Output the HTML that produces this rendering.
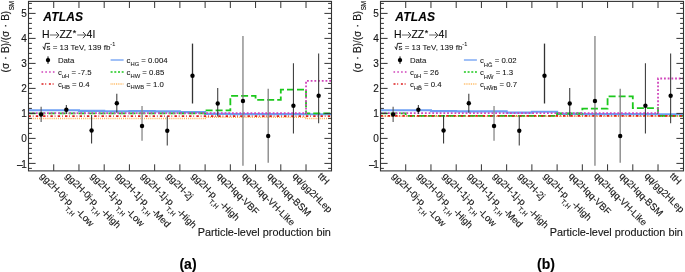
<!DOCTYPE html>
<html><head><meta charset="utf-8"><style>
html,body{margin:0;padding:0;background:#fff;width:685px;height:272px;overflow:hidden}
svg{display:block;will-change:transform;font-family:"Liberation Sans",sans-serif}
text{stroke:currentColor;stroke-width:0.13px}
text.s{stroke-width:0.06px}
</style></head><body>
<svg width="685" height="272" viewBox="0 0 685 272">
<path d="M28.50,118.60 L205.11,118.60 L205.11,117.20 L306.03,117.20 L306.03,118.60 L331.26,118.60" fill="none" stroke="#ffb455" stroke-width="1.5" stroke-dasharray="1.05,1.05"/>
<path d="M28.50,110.30 L78.96,110.30 L78.96,110.90 L104.19,110.90 L104.19,111.20 L129.42,111.20 L129.42,111.10 L154.65,111.10 L154.65,111.40 L179.88,111.40 L179.88,112.10 L205.11,112.10 L205.11,113.90 L230.34,113.90 L230.34,114.10 L306.03,114.10 L306.03,114.20 L331.26,114.20" fill="none" stroke="#6c9ef3" stroke-width="2.1"/>
<path d="M28.50,113.30 L205.11,113.30 L205.11,110.40 L230.34,110.40 L230.34,95.90 L255.57,95.90 L255.57,99.80 L280.80,99.80 L280.80,89.60 L306.03,89.60 L306.03,113.40 L331.26,113.40" fill="none" stroke="#1cc81c" stroke-width="1.8" stroke-dasharray="7,3"/>
<path d="M28.50,116.20 L331.26,116.20" fill="none" stroke="#dd1f1f" stroke-width="1.7" stroke-dasharray="2.4,1.9,0.7,2.3"/>
<path d="M28.50,113.20 L306.03,113.20 L306.03,80.90 L331.26,80.90" fill="none" stroke="#d044bb" stroke-width="1.8" stroke-dasharray="1.8,1.9"/>
<line x1="41.12" y1="106.80" x2="41.12" y2="122.10" stroke="#555" stroke-width="1.10"/>
<circle cx="41.12" cy="114.50" r="2.2" fill="#000"/>
<line x1="66.34" y1="104.90" x2="66.34" y2="113.90" stroke="#383838" stroke-width="1.05"/>
<circle cx="66.34" cy="109.70" r="2.2" fill="#000"/>
<line x1="91.58" y1="115.10" x2="91.58" y2="143.40" stroke="#3a3a3a" stroke-width="1.10"/>
<circle cx="91.58" cy="130.50" r="2.2" fill="#000"/>
<line x1="116.81" y1="93.70" x2="116.81" y2="112.80" stroke="#383838" stroke-width="1.05"/>
<circle cx="116.81" cy="103.30" r="2.2" fill="#000"/>
<line x1="142.03" y1="106.00" x2="142.03" y2="140.70" stroke="#888" stroke-width="1.30"/>
<circle cx="142.03" cy="126.00" r="2.2" fill="#000"/>
<line x1="167.27" y1="116.20" x2="167.27" y2="145.40" stroke="#444" stroke-width="1.10"/>
<circle cx="167.27" cy="130.80" r="2.2" fill="#000"/>
<line x1="192.50" y1="43.60" x2="192.50" y2="103.50" stroke="#333" stroke-width="1.30"/>
<circle cx="192.50" cy="75.70" r="2.2" fill="#000"/>
<line x1="217.72" y1="88.00" x2="217.72" y2="116.40" stroke="#383838" stroke-width="1.05"/>
<circle cx="217.72" cy="103.50" r="2.2" fill="#000"/>
<line x1="242.96" y1="36.00" x2="242.96" y2="165.80" stroke="#777" stroke-width="1.20"/>
<circle cx="242.96" cy="101.00" r="2.2" fill="#000"/>
<line x1="268.19" y1="88.80" x2="268.19" y2="162.80" stroke="#777" stroke-width="1.20"/>
<circle cx="268.19" cy="136.00" r="2.2" fill="#000"/>
<line x1="293.42" y1="63.30" x2="293.42" y2="133.50" stroke="#383838" stroke-width="1.05"/>
<circle cx="293.42" cy="105.80" r="2.2" fill="#000"/>
<line x1="318.64" y1="53.60" x2="318.64" y2="123.30" stroke="#383838" stroke-width="1.05"/>
<circle cx="318.64" cy="95.80" r="2.2" fill="#000"/>
<rect x="28.50" y="1.40" width="303.00" height="169.50" fill="none" stroke="#333" stroke-width="1.1"/>
<path d="M28.50,168.40 h3.40 M331.50,168.40 h-3.40 M28.50,163.40 h7.10 M331.50,163.40 h-7.10 M28.50,158.40 h3.40 M331.50,158.40 h-3.40 M28.50,153.40 h3.40 M331.50,153.40 h-3.40 M28.50,148.40 h3.40 M331.50,148.40 h-3.40 M28.50,143.40 h3.40 M331.50,143.40 h-3.40 M28.50,138.40 h7.10 M331.50,138.40 h-7.10 M28.50,133.40 h3.40 M331.50,133.40 h-3.40 M28.50,128.40 h3.40 M331.50,128.40 h-3.40 M28.50,123.40 h3.40 M331.50,123.40 h-3.40 M28.50,118.40 h3.40 M331.50,118.40 h-3.40 M28.50,113.40 h7.10 M331.50,113.40 h-7.10 M28.50,108.40 h3.40 M331.50,108.40 h-3.40 M28.50,103.40 h3.40 M331.50,103.40 h-3.40 M28.50,98.40 h3.40 M331.50,98.40 h-3.40 M28.50,93.40 h3.40 M331.50,93.40 h-3.40 M28.50,88.40 h7.10 M331.50,88.40 h-7.10 M28.50,83.40 h3.40 M331.50,83.40 h-3.40 M28.50,78.40 h3.40 M331.50,78.40 h-3.40 M28.50,73.40 h3.40 M331.50,73.40 h-3.40 M28.50,68.40 h3.40 M331.50,68.40 h-3.40 M28.50,63.40 h7.10 M331.50,63.40 h-7.10 M28.50,58.40 h3.40 M331.50,58.40 h-3.40 M28.50,53.40 h3.40 M331.50,53.40 h-3.40 M28.50,48.40 h3.40 M331.50,48.40 h-3.40 M28.50,43.40 h3.40 M331.50,43.40 h-3.40 M28.50,38.40 h7.10 M331.50,38.40 h-7.10 M28.50,33.40 h3.40 M331.50,33.40 h-3.40 M28.50,28.40 h3.40 M331.50,28.40 h-3.40 M28.50,23.40 h3.40 M331.50,23.40 h-3.40 M28.50,18.40 h3.40 M331.50,18.40 h-3.40 M28.50,13.40 h7.10 M331.50,13.40 h-7.10 M28.50,8.40 h3.40 M331.50,8.40 h-3.40 M28.50,3.40 h3.40 M331.50,3.40 h-3.40 M53.73,170.90 v-6.60 M53.73,1.40 v6.60 M78.96,170.90 v-6.60 M78.96,1.40 v6.60 M104.19,170.90 v-6.60 M104.19,1.40 v6.60 M129.42,170.90 v-6.60 M129.42,1.40 v6.60 M154.65,170.90 v-6.60 M154.65,1.40 v6.60 M179.88,170.90 v-6.60 M179.88,1.40 v6.60 M205.11,170.90 v-6.60 M205.11,1.40 v6.60 M230.34,170.90 v-6.60 M230.34,1.40 v6.60 M255.57,170.90 v-6.60 M255.57,1.40 v6.60 M280.80,170.90 v-6.60 M280.80,1.40 v6.60 M306.03,170.90 v-6.60 M306.03,1.40 v6.60" stroke="#333" stroke-width="1" fill="none"/>
<text x="26.70" y="167.70" font-size="10" text-anchor="end" font-family="Liberation Sans, sans-serif" fill="#222">–<tspan dx="-1.3">1</tspan></text>
<text x="26.70" y="142.00" font-size="10" text-anchor="end" font-family="Liberation Sans, sans-serif" fill="#222">0</text>
<text x="26.70" y="117.00" font-size="10" text-anchor="end" font-family="Liberation Sans, sans-serif" fill="#222">1</text>
<text x="26.70" y="92.00" font-size="10" text-anchor="end" font-family="Liberation Sans, sans-serif" fill="#222">2</text>
<text x="26.70" y="67.00" font-size="10" text-anchor="end" font-family="Liberation Sans, sans-serif" fill="#222">3</text>
<text x="26.70" y="42.00" font-size="10" text-anchor="end" font-family="Liberation Sans, sans-serif" fill="#222">4</text>
<text x="26.70" y="17.00" font-size="10" text-anchor="end" font-family="Liberation Sans, sans-serif" fill="#222">5</text>
<text transform="translate(9.25,0.9) rotate(-90)" font-size="10" text-anchor="end" font-family="Liberation Sans, sans-serif" fill="#222">(σ<tspan dx="0.5"> · </tspan><tspan dx="0.5">B)/(σ</tspan><tspan dx="0.5"> · </tspan><tspan dx="0.5">B)</tspan><tspan font-size="6.3" dx="0.5" dy="4.85" fill="#000">SM</tspan></text>
<text transform="translate(39.62,176.6) rotate(45)" font-size="9.5" font-family="Liberation Sans, sans-serif" fill="#222">gg2H-0j-p<tspan font-size="6.5" dx="-0.8" dy="5.6" letter-spacing="0.3">T,H</tspan><tspan font-size="9.5" dy="-5.6" dx="-0.6">-Low</tspan></text>
<text transform="translate(64.84,176.6) rotate(45)" font-size="9.5" font-family="Liberation Sans, sans-serif" fill="#222">gg2H-0j-p<tspan font-size="6.5" dx="-0.8" dy="5.6" letter-spacing="0.3">T,H</tspan><tspan font-size="9.5" dy="-5.6" dx="-0.6">-High</tspan></text>
<text transform="translate(90.08,176.6) rotate(45)" font-size="9.5" font-family="Liberation Sans, sans-serif" fill="#222">gg2H-1j-p<tspan font-size="6.5" dx="-0.8" dy="5.6" letter-spacing="0.3">T,H</tspan><tspan font-size="9.5" dy="-5.6" dx="-0.6">-Low</tspan></text>
<text transform="translate(115.31,176.6) rotate(45)" font-size="9.5" font-family="Liberation Sans, sans-serif" fill="#222">gg2H-1j-p<tspan font-size="6.5" dx="-0.8" dy="5.6" letter-spacing="0.3">T,H</tspan><tspan font-size="9.5" dy="-5.6" dx="-0.6">-Med</tspan></text>
<text transform="translate(140.53,176.6) rotate(45)" font-size="9.5" font-family="Liberation Sans, sans-serif" fill="#222">gg2H-1j-p<tspan font-size="6.5" dx="-0.8" dy="5.6" letter-spacing="0.3">T,H</tspan><tspan font-size="9.5" dy="-5.6" dx="-0.6">-High</tspan></text>
<text transform="translate(165.77,176.6) rotate(45)" font-size="9.5" font-family="Liberation Sans, sans-serif" fill="#222">gg2H-2j</text>
<text transform="translate(191.00,176.6) rotate(45)" font-size="9.5" font-family="Liberation Sans, sans-serif" fill="#222">gg2H-p<tspan font-size="6.5" dx="-0.8" dy="5.6" letter-spacing="0.3">T,H</tspan><tspan font-size="9.5" dy="-5.6" dx="-0.6">-High</tspan></text>
<text transform="translate(216.22,176.6) rotate(45)" font-size="9.5" font-family="Liberation Sans, sans-serif" fill="#222">qq2Hqq-VBF</text>
<text transform="translate(241.46,176.6) rotate(45)" font-size="9.5" font-family="Liberation Sans, sans-serif" fill="#222">qq2Hqq-VH-Like</text>
<text transform="translate(266.69,176.6) rotate(45)" font-size="9.5" font-family="Liberation Sans, sans-serif" fill="#222">qq2Hqq-BSM</text>
<text transform="translate(291.92,176.6) rotate(45)" font-size="9.5" font-family="Liberation Sans, sans-serif" fill="#222">qq/gg2HLep</text>
<text transform="translate(317.14,176.6) rotate(45)" font-size="9.5" font-family="Liberation Sans, sans-serif" fill="#222">ttH</text>
<text x="330.90" y="236.4" font-size="10.85" text-anchor="end" font-family="Liberation Sans, sans-serif" fill="#222">Particle-level production bin</text>
<text x="43.20" y="21.1" font-size="12" font-weight="bold" font-style="italic" letter-spacing="0.2" font-family="Liberation Sans, sans-serif" fill="#000">ATLAS</text>
<text x="42.00" y="37.65" font-size="10.5" font-family="Liberation Sans, sans-serif" fill="#111">H</text>
<text x="59.40" y="37.65" font-size="10.5" font-family="Liberation Sans, sans-serif" fill="#111">ZZ</text>
<text x="72.70" y="35.6" font-size="9" font-family="Liberation Sans, sans-serif" fill="#111">*</text>
<text x="86.40" y="37.65" font-size="10.5" font-family="Liberation Sans, sans-serif" fill="#111">4</text>
<text x="92.80" y="37.65" font-size="10.5" font-family="Liberation Sans, sans-serif" fill="#111">l</text>
<line x1="49.80" y1="35" x2="58.30" y2="35" stroke="#999" stroke-width="1.5"/>
<polyline points="56.10,32 58.90,35.1 56.10,38.2" fill="none" stroke="#333" stroke-width="1"/>
<line x1="77.20" y1="35" x2="85.20" y2="35" stroke="#999" stroke-width="1.5"/>
<polyline points="83.00,32 85.80,35.1 83.00,38.2" fill="none" stroke="#333" stroke-width="1"/>
<path d="M42.90,46.6 L44.50,49.6 L45.50,43.4 L49.90,43.4" fill="none" stroke="#111" stroke-width="0.9"/>
<text x="46.50" y="49.5" font-size="8" class="s" font-family="Liberation Sans, sans-serif" fill="#111">s = 13 TeV, 139 fb<tspan font-size="5.5" dy="-3.2">-1</tspan></text>
<line x1="48.00" y1="56.4" x2="48.00" y2="63.8" stroke="#000" stroke-width="1"/>
<circle cx="48.00" cy="60.1" r="2.2" fill="#000"/>
<text x="57.90" y="63" font-size="7.8" class="s" font-family="Liberation Sans, sans-serif" fill="#111">Data</text>
<line x1="41.50" y1="72.00" x2="54.50" y2="72.00" stroke="#d044bb" stroke-width="1.6" stroke-dasharray="1.6,2.2"/>
<text x="57.90" y="75.00" font-size="7.8" class="s" font-family="Liberation Sans, sans-serif" fill="#111">c<tspan font-size="5.8" dy="2.50">uH</tspan><tspan dy="-2.50"> = -7.5</tspan></text>
<line x1="41.50" y1="84.00" x2="54.50" y2="84.00" stroke="#dd1f1f" stroke-width="1.6" stroke-dasharray="2,1.7,1,2.7"/>
<text x="57.90" y="86.70" font-size="7.8" class="s" font-family="Liberation Sans, sans-serif" fill="#111">c<tspan font-size="5.8" dy="2.50">HB</tspan><tspan dy="-2.50"> = 0.4</tspan></text>
<line x1="110.60" y1="60.00" x2="123.60" y2="60.00" stroke="#6c9ef3" stroke-width="1.3"/>
<text x="126.60" y="63.00" font-size="7.8" class="s" font-family="Liberation Sans, sans-serif" fill="#111">c<tspan font-size="5.8" dy="2.50">HG</tspan><tspan dy="-2.50"> = 0.004</tspan></text>
<line x1="110.60" y1="72.00" x2="123.60" y2="72.00" stroke="#1cc81c" stroke-width="1.7" stroke-dasharray="2,1.7"/>
<text x="126.60" y="75.00" font-size="7.8" class="s" font-family="Liberation Sans, sans-serif" fill="#111">c<tspan font-size="5.8" dy="2.50">HW</tspan><tspan dy="-2.50"> = 0.85</tspan></text>
<line x1="110.60" y1="84.00" x2="123.60" y2="84.00" stroke="#ffb455" stroke-width="1.3" stroke-dasharray="0.9,0.9"/>
<text x="126.60" y="86.70" font-size="7.8" class="s" font-family="Liberation Sans, sans-serif" fill="#111">c<tspan font-size="5.8" dy="2.50">HWB</tspan><tspan dy="-2.50"> = 1.0</tspan></text>
<path d="M380.50,116.30 L683.26,116.30" fill="none" stroke="#ffb455" stroke-width="1.5" stroke-dasharray="1.05,1.05"/>
<path d="M380.50,110.30 L430.96,110.30 L430.96,111.10 L456.19,111.10 L456.19,111.40 L506.65,111.40 L506.65,112.60 L531.88,112.60 L531.88,111.80 L557.11,111.80 L557.11,113.90 L582.34,113.90 L582.34,114.10 L658.03,114.10 L658.03,114.20 L683.26,114.20" fill="none" stroke="#6c9ef3" stroke-width="2.1"/>
<path d="M380.50,113.30 L405.73,113.30 L405.73,115.80 L557.11,115.80 L557.11,113.50 L582.34,113.50 L582.34,108.70 L607.57,108.70 L607.57,96.40 L632.80,96.40 L632.80,108.10 L658.03,108.10 L658.03,115.80 L683.26,115.80" fill="none" stroke="#1cc81c" stroke-width="1.8" stroke-dasharray="7,3"/>
<path d="M380.50,115.80 L683.26,115.80" fill="none" stroke="#dd1f1f" stroke-width="1.7" stroke-dasharray="2.4,1.9,0.7,2.3"/>
<path d="M380.50,113.20 L658.03,113.20 L658.03,78.50 L683.26,78.50" fill="none" stroke="#d044bb" stroke-width="1.8" stroke-dasharray="1.8,1.9"/>
<line x1="393.12" y1="106.80" x2="393.12" y2="122.10" stroke="#555" stroke-width="1.10"/>
<circle cx="393.12" cy="114.50" r="2.2" fill="#000"/>
<line x1="418.35" y1="104.90" x2="418.35" y2="113.90" stroke="#383838" stroke-width="1.05"/>
<circle cx="418.35" cy="109.70" r="2.2" fill="#000"/>
<line x1="443.57" y1="115.10" x2="443.57" y2="143.40" stroke="#3a3a3a" stroke-width="1.10"/>
<circle cx="443.57" cy="130.50" r="2.2" fill="#000"/>
<line x1="468.81" y1="93.70" x2="468.81" y2="112.80" stroke="#383838" stroke-width="1.05"/>
<circle cx="468.81" cy="103.30" r="2.2" fill="#000"/>
<line x1="494.03" y1="106.00" x2="494.03" y2="140.70" stroke="#888" stroke-width="1.30"/>
<circle cx="494.03" cy="126.00" r="2.2" fill="#000"/>
<line x1="519.26" y1="116.20" x2="519.26" y2="145.40" stroke="#444" stroke-width="1.10"/>
<circle cx="519.26" cy="130.80" r="2.2" fill="#000"/>
<line x1="544.50" y1="43.60" x2="544.50" y2="103.50" stroke="#333" stroke-width="1.30"/>
<circle cx="544.50" cy="75.70" r="2.2" fill="#000"/>
<line x1="569.73" y1="88.00" x2="569.73" y2="116.40" stroke="#383838" stroke-width="1.05"/>
<circle cx="569.73" cy="103.50" r="2.2" fill="#000"/>
<line x1="594.96" y1="36.00" x2="594.96" y2="165.80" stroke="#777" stroke-width="1.20"/>
<circle cx="594.96" cy="101.00" r="2.2" fill="#000"/>
<line x1="620.18" y1="88.80" x2="620.18" y2="162.80" stroke="#777" stroke-width="1.20"/>
<circle cx="620.18" cy="136.00" r="2.2" fill="#000"/>
<line x1="645.41" y1="63.30" x2="645.41" y2="133.50" stroke="#383838" stroke-width="1.05"/>
<circle cx="645.41" cy="105.80" r="2.2" fill="#000"/>
<line x1="670.64" y1="53.60" x2="670.64" y2="123.30" stroke="#383838" stroke-width="1.05"/>
<circle cx="670.64" cy="95.80" r="2.2" fill="#000"/>
<rect x="380.50" y="1.40" width="303.00" height="169.50" fill="none" stroke="#333" stroke-width="1.1"/>
<path d="M380.50,168.40 h3.40 M683.50,168.40 h-3.40 M380.50,163.40 h7.10 M683.50,163.40 h-7.10 M380.50,158.40 h3.40 M683.50,158.40 h-3.40 M380.50,153.40 h3.40 M683.50,153.40 h-3.40 M380.50,148.40 h3.40 M683.50,148.40 h-3.40 M380.50,143.40 h3.40 M683.50,143.40 h-3.40 M380.50,138.40 h7.10 M683.50,138.40 h-7.10 M380.50,133.40 h3.40 M683.50,133.40 h-3.40 M380.50,128.40 h3.40 M683.50,128.40 h-3.40 M380.50,123.40 h3.40 M683.50,123.40 h-3.40 M380.50,118.40 h3.40 M683.50,118.40 h-3.40 M380.50,113.40 h7.10 M683.50,113.40 h-7.10 M380.50,108.40 h3.40 M683.50,108.40 h-3.40 M380.50,103.40 h3.40 M683.50,103.40 h-3.40 M380.50,98.40 h3.40 M683.50,98.40 h-3.40 M380.50,93.40 h3.40 M683.50,93.40 h-3.40 M380.50,88.40 h7.10 M683.50,88.40 h-7.10 M380.50,83.40 h3.40 M683.50,83.40 h-3.40 M380.50,78.40 h3.40 M683.50,78.40 h-3.40 M380.50,73.40 h3.40 M683.50,73.40 h-3.40 M380.50,68.40 h3.40 M683.50,68.40 h-3.40 M380.50,63.40 h7.10 M683.50,63.40 h-7.10 M380.50,58.40 h3.40 M683.50,58.40 h-3.40 M380.50,53.40 h3.40 M683.50,53.40 h-3.40 M380.50,48.40 h3.40 M683.50,48.40 h-3.40 M380.50,43.40 h3.40 M683.50,43.40 h-3.40 M380.50,38.40 h7.10 M683.50,38.40 h-7.10 M380.50,33.40 h3.40 M683.50,33.40 h-3.40 M380.50,28.40 h3.40 M683.50,28.40 h-3.40 M380.50,23.40 h3.40 M683.50,23.40 h-3.40 M380.50,18.40 h3.40 M683.50,18.40 h-3.40 M380.50,13.40 h7.10 M683.50,13.40 h-7.10 M380.50,8.40 h3.40 M683.50,8.40 h-3.40 M380.50,3.40 h3.40 M683.50,3.40 h-3.40 M405.73,170.90 v-6.60 M405.73,1.40 v6.60 M430.96,170.90 v-6.60 M430.96,1.40 v6.60 M456.19,170.90 v-6.60 M456.19,1.40 v6.60 M481.42,170.90 v-6.60 M481.42,1.40 v6.60 M506.65,170.90 v-6.60 M506.65,1.40 v6.60 M531.88,170.90 v-6.60 M531.88,1.40 v6.60 M557.11,170.90 v-6.60 M557.11,1.40 v6.60 M582.34,170.90 v-6.60 M582.34,1.40 v6.60 M607.57,170.90 v-6.60 M607.57,1.40 v6.60 M632.80,170.90 v-6.60 M632.80,1.40 v6.60 M658.03,170.90 v-6.60 M658.03,1.40 v6.60" stroke="#333" stroke-width="1" fill="none"/>
<text x="378.70" y="167.70" font-size="10" text-anchor="end" font-family="Liberation Sans, sans-serif" fill="#222">–<tspan dx="-1.3">1</tspan></text>
<text x="378.70" y="142.00" font-size="10" text-anchor="end" font-family="Liberation Sans, sans-serif" fill="#222">0</text>
<text x="378.70" y="117.00" font-size="10" text-anchor="end" font-family="Liberation Sans, sans-serif" fill="#222">1</text>
<text x="378.70" y="92.00" font-size="10" text-anchor="end" font-family="Liberation Sans, sans-serif" fill="#222">2</text>
<text x="378.70" y="67.00" font-size="10" text-anchor="end" font-family="Liberation Sans, sans-serif" fill="#222">3</text>
<text x="378.70" y="42.00" font-size="10" text-anchor="end" font-family="Liberation Sans, sans-serif" fill="#222">4</text>
<text x="378.70" y="17.00" font-size="10" text-anchor="end" font-family="Liberation Sans, sans-serif" fill="#222">5</text>
<text transform="translate(361.25,0.9) rotate(-90)" font-size="10" text-anchor="end" font-family="Liberation Sans, sans-serif" fill="#222">(σ<tspan dx="0.5"> · </tspan><tspan dx="0.5">B)/(σ</tspan><tspan dx="0.5"> · </tspan><tspan dx="0.5">B)</tspan><tspan font-size="6.3" dx="0.5" dy="4.85" fill="#000">SM</tspan></text>
<text transform="translate(391.62,176.6) rotate(45)" font-size="9.5" font-family="Liberation Sans, sans-serif" fill="#222">gg2H-0j-p<tspan font-size="6.5" dx="-0.8" dy="5.6" letter-spacing="0.3">T,H</tspan><tspan font-size="9.5" dy="-5.6" dx="-0.6">-Low</tspan></text>
<text transform="translate(416.85,176.6) rotate(45)" font-size="9.5" font-family="Liberation Sans, sans-serif" fill="#222">gg2H-0j-p<tspan font-size="6.5" dx="-0.8" dy="5.6" letter-spacing="0.3">T,H</tspan><tspan font-size="9.5" dy="-5.6" dx="-0.6">-High</tspan></text>
<text transform="translate(442.07,176.6) rotate(45)" font-size="9.5" font-family="Liberation Sans, sans-serif" fill="#222">gg2H-1j-p<tspan font-size="6.5" dx="-0.8" dy="5.6" letter-spacing="0.3">T,H</tspan><tspan font-size="9.5" dy="-5.6" dx="-0.6">-Low</tspan></text>
<text transform="translate(467.31,176.6) rotate(45)" font-size="9.5" font-family="Liberation Sans, sans-serif" fill="#222">gg2H-1j-p<tspan font-size="6.5" dx="-0.8" dy="5.6" letter-spacing="0.3">T,H</tspan><tspan font-size="9.5" dy="-5.6" dx="-0.6">-Med</tspan></text>
<text transform="translate(492.53,176.6) rotate(45)" font-size="9.5" font-family="Liberation Sans, sans-serif" fill="#222">gg2H-1j-p<tspan font-size="6.5" dx="-0.8" dy="5.6" letter-spacing="0.3">T,H</tspan><tspan font-size="9.5" dy="-5.6" dx="-0.6">-High</tspan></text>
<text transform="translate(517.76,176.6) rotate(45)" font-size="9.5" font-family="Liberation Sans, sans-serif" fill="#222">gg2H-2j</text>
<text transform="translate(543.00,176.6) rotate(45)" font-size="9.5" font-family="Liberation Sans, sans-serif" fill="#222">gg2H-p<tspan font-size="6.5" dx="-0.8" dy="5.6" letter-spacing="0.3">T,H</tspan><tspan font-size="9.5" dy="-5.6" dx="-0.6">-High</tspan></text>
<text transform="translate(568.23,176.6) rotate(45)" font-size="9.5" font-family="Liberation Sans, sans-serif" fill="#222">qq2Hqq-VBF</text>
<text transform="translate(593.46,176.6) rotate(45)" font-size="9.5" font-family="Liberation Sans, sans-serif" fill="#222">qq2Hqq-VH-Like</text>
<text transform="translate(618.68,176.6) rotate(45)" font-size="9.5" font-family="Liberation Sans, sans-serif" fill="#222">qq2Hqq-BSM</text>
<text transform="translate(643.91,176.6) rotate(45)" font-size="9.5" font-family="Liberation Sans, sans-serif" fill="#222">qq/gg2HLep</text>
<text transform="translate(669.14,176.6) rotate(45)" font-size="9.5" font-family="Liberation Sans, sans-serif" fill="#222">ttH</text>
<text x="682.90" y="236.4" font-size="10.85" text-anchor="end" font-family="Liberation Sans, sans-serif" fill="#222">Particle-level production bin</text>
<text x="395.20" y="21.1" font-size="12" font-weight="bold" font-style="italic" letter-spacing="0.2" font-family="Liberation Sans, sans-serif" fill="#000">ATLAS</text>
<text x="394.00" y="37.65" font-size="10.5" font-family="Liberation Sans, sans-serif" fill="#111">H</text>
<text x="411.40" y="37.65" font-size="10.5" font-family="Liberation Sans, sans-serif" fill="#111">ZZ</text>
<text x="424.70" y="35.6" font-size="9" font-family="Liberation Sans, sans-serif" fill="#111">*</text>
<text x="438.40" y="37.65" font-size="10.5" font-family="Liberation Sans, sans-serif" fill="#111">4</text>
<text x="444.80" y="37.65" font-size="10.5" font-family="Liberation Sans, sans-serif" fill="#111">l</text>
<line x1="401.80" y1="35" x2="410.30" y2="35" stroke="#999" stroke-width="1.5"/>
<polyline points="408.10,32 410.90,35.1 408.10,38.2" fill="none" stroke="#333" stroke-width="1"/>
<line x1="429.20" y1="35" x2="437.20" y2="35" stroke="#999" stroke-width="1.5"/>
<polyline points="435.00,32 437.80,35.1 435.00,38.2" fill="none" stroke="#333" stroke-width="1"/>
<path d="M394.90,46.6 L396.50,49.6 L397.50,43.4 L401.90,43.4" fill="none" stroke="#111" stroke-width="0.9"/>
<text x="398.50" y="49.5" font-size="8" class="s" font-family="Liberation Sans, sans-serif" fill="#111">s = 13 TeV, 139 fb<tspan font-size="5.5" dy="-3.2">-1</tspan></text>
<line x1="400.00" y1="56.4" x2="400.00" y2="63.8" stroke="#000" stroke-width="1"/>
<circle cx="400.00" cy="60.1" r="2.2" fill="#000"/>
<text x="409.90" y="63" font-size="7.8" class="s" font-family="Liberation Sans, sans-serif" fill="#111">Data</text>
<line x1="393.50" y1="72.00" x2="406.50" y2="72.00" stroke="#d044bb" stroke-width="1.6" stroke-dasharray="1.6,2.2"/>
<text x="409.90" y="75.00" font-size="7.8" class="s" font-family="Liberation Sans, sans-serif" fill="#111">c<tspan font-size="5.8" dy="2.80">ũH</tspan><tspan dy="-2.80"> = 26</tspan></text>
<line x1="393.50" y1="84.00" x2="406.50" y2="84.00" stroke="#dd1f1f" stroke-width="1.6" stroke-dasharray="2,1.7,1,2.7"/>
<text x="409.90" y="86.70" font-size="7.8" class="s" font-family="Liberation Sans, sans-serif" fill="#111">c<tspan font-size="5.8" dy="3.50">HB̃</tspan><tspan dy="-3.50"> = 0.4</tspan></text>
<line x1="463.90" y1="60.00" x2="476.90" y2="60.00" stroke="#6c9ef3" stroke-width="1.3"/>
<text x="479.90" y="63.00" font-size="7.8" class="s" font-family="Liberation Sans, sans-serif" fill="#111">c<tspan font-size="5.8" dy="3.70">HG̃</tspan><tspan dy="-3.70"> = 0.02</tspan></text>
<line x1="463.90" y1="72.00" x2="476.90" y2="72.00" stroke="#1cc81c" stroke-width="1.7" stroke-dasharray="2,1.7"/>
<text x="479.90" y="75.00" font-size="7.8" class="s" font-family="Liberation Sans, sans-serif" fill="#111">c<tspan font-size="5.8" dy="3.50">HW̃</tspan><tspan dy="-3.50"> = 1.3</tspan></text>
<line x1="463.90" y1="84.00" x2="476.90" y2="84.00" stroke="#ffb455" stroke-width="1.3" stroke-dasharray="0.9,0.9"/>
<text x="479.90" y="86.70" font-size="7.8" class="s" font-family="Liberation Sans, sans-serif" fill="#111">c<tspan font-size="5.8" dy="3.20">HW̃B</tspan><tspan dy="-3.20"> = 0.7</tspan></text>
<text x="188" y="268.8" font-size="14" font-weight="bold" text-anchor="middle" font-family="Liberation Sans, sans-serif" fill="#000">(a)</text>
<text x="546" y="268.8" font-size="14" font-weight="bold" text-anchor="middle" font-family="Liberation Sans, sans-serif" fill="#000">(b)</text>
</svg>
</body></html>
